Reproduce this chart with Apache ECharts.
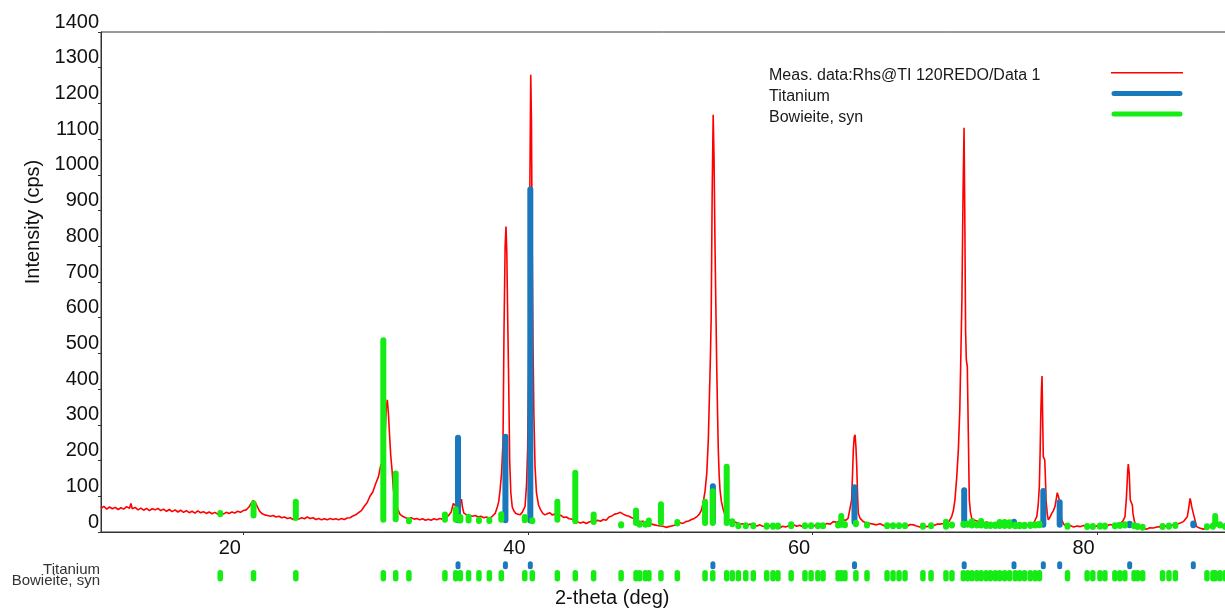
<!DOCTYPE html>
<html>
<head>
<meta charset="utf-8">
<title>XRD pattern</title>
<script src="https://cdn.jsdelivr.net/npm/echarts@6/dist/echarts.min.js"></script>
<style>
  html, body { margin: 0; padding: 0; background: #fff; }
  #chart { width: 1225px; height: 608px; }
</style>
</head>
<body>
<div id="chart"></div>
<script>
// measured pattern: [2-theta, intensity]
var measured = [
  [10.0,66],[10.2,72],[10.4,64],[10.6,70],[10.8,65],[11.0,69],[11.2,63],[11.4,68],[11.6,64],[11.8,71],
  [12.0,66],[12.1,80],[12.2,65],[12.4,69],[12.6,62],[12.8,67],[13.0,61],[13.2,66],[13.4,60],[13.6,65],
  [13.8,62],[14.0,66],[14.2,60],[14.4,64],[14.6,58],[14.8,63],[15.0,57],[15.2,62],[15.4,56],[15.6,61],
  [15.8,55],[16.0,60],[16.2,54],[16.4,58],[16.6,53],[16.8,59],[17.0,54],[17.2,57],[17.4,52],[17.6,56],
  [17.8,51],[18.0,55],[18.2,50],[18.4,54],[18.6,50],[18.8,55],[19.0,52],[19.2,56],[19.4,53],[19.6,58],
  [19.8,55],[20.0,60],[20.2,62],[20.4,70],[20.55,80],[20.7,88],[20.85,82],[21.0,70],[21.15,58],[21.3,52],
  [21.5,48],[21.7,46],[21.9,44],[22.1,46],[22.3,42],[22.5,44],[22.7,40],[22.9,42],[23.1,38],[23.3,40],
  [23.5,35],[23.7,38],[23.9,36],[24.1,40],[24.3,37],[24.5,42],[24.7,38],[24.9,40],[25.1,35],[25.3,38],
  [25.5,34],[25.7,37],[25.9,34],[26.1,38],[26.3,35],[26.5,37],[26.7,34],[26.9,38],[27.1,35],[27.3,39],
  [27.5,40],[27.7,45],[27.9,48],[28.1,54],[28.3,60],[28.5,72],[28.7,82],[28.9,100],[29.1,112],[29.3,135],
  [29.5,155],[29.65,185],[29.8,200],[29.95,260],[30.05,350],[30.12,370],[30.2,330],[30.28,270],[30.36,215],[30.45,175],
  [30.55,118],[30.65,90],[30.8,70],[31.0,50],[31.2,44],[31.4,40],[31.6,37],[31.8,40],[32.0,36],[32.2,38],
  [32.4,34],[32.6,37],[32.8,33],[33.0,36],[33.2,33],[33.4,37],[33.6,34],[33.8,38],[34.0,36],[34.2,40],
  [34.4,45],[34.6,55],[34.76,80],[34.9,76],[35.0,70],[35.12,62],[35.23,60],[35.33,92],[35.4,70],[35.5,53],
  [35.7,48],[35.9,46],[36.1,44],[36.3,46],[36.5,42],[36.7,44],[36.9,40],[37.1,42],[37.3,38],[37.5,44],
  [37.7,52],[37.85,70],[37.95,85],[38.05,120],[38.15,165],[38.25,250],[38.32,560],[38.4,800],[38.46,855],[38.52,780],
  [38.58,600],[38.65,420],[38.72,200],[38.8,110],[38.9,70],[39.0,60],[39.15,52],[39.3,50],[39.45,48],[39.6,55],
  [39.7,60],[39.8,72],[39.9,130],[39.98,230],[40.04,420],[40.09,700],[40.14,980],[40.2,1280],[40.25,1150],[40.3,800],
  [40.36,520],[40.42,330],[40.5,185],[40.6,110],[40.75,75],[40.9,62],[41.05,52],[41.2,48],[41.4,52],[41.55,54],
  [41.7,48],[41.9,50],[42.1,45],[42.3,47],[42.5,41],[42.7,42],[42.9,37],[43.1,36],[43.3,33],[43.5,28],
  [43.7,25],[43.9,28],[44.1,24],[44.3,28],[44.5,31],[44.7,28],[44.9,33],[45.1,30],[45.3,35],[45.5,33],
  [45.7,42],[45.9,45],[46.1,50],[46.3,52],[46.5,55],[46.7,50],[46.9,46],[47.1,44],[47.3,40],[47.5,37],
  [47.7,32],[47.9,29],[48.1,30],[48.3,26],[48.5,25],[48.7,22],[48.9,20],[49.1,18],[49.3,17],[49.5,16],
  [49.7,13],[49.9,15],[50.1,17],[50.3,19],[50.5,22],[50.7,26],[50.9,24],[51.1,29],[51.3,31],[51.5,35],
  [51.7,38],[51.9,44],[52.05,50],[52.2,62],[52.33,85],[52.45,115],[52.57,164],[52.68,260],[52.75,370],[52.82,480],
  [52.88,600],[52.95,950],[53.02,1168],[53.08,1050],[53.15,800],[53.22,600],[53.27,463],[53.33,330],[53.38,230],[53.44,160],
  [53.5,118],[53.6,85],[53.73,62],[53.85,48],[53.97,38],[54.2,32],[54.43,29],[54.7,26],[54.9,22],[55.14,23],
  [55.4,19],[55.6,22],[55.84,20],[56.1,17],[56.3,20],[56.5,16],[56.78,15],[57.0,18],[57.25,13],[57.5,15],
  [57.72,12],[57.9,16],[58.1,14],[58.4,18],[58.65,20],[58.9,16],[59.1,19],[59.35,14],[59.59,15],[59.8,19],
  [60.05,16],[60.3,21],[60.53,22],[60.8,19],[61.0,24],[61.25,22],[61.46,29],[61.7,27],[61.95,31],[62.16,34],
  [62.35,33],[62.5,38],[62.64,43],[62.75,90],[62.82,170],[62.87,230],[62.93,265],[62.99,272],[63.05,240],[63.11,183],
  [63.17,100],[63.22,52],[63.35,38],[63.57,29],[63.8,26],[64.05,24],[64.27,22],[64.5,20],[64.75,23],[65.0,18],
  [65.21,17],[65.45,21],[65.7,16],[65.95,19],[66.15,15],[66.4,19],[66.65,16],[66.85,21],[67.09,20],[67.3,17],
  [67.55,14],[67.8,18],[68.03,15],[68.3,19],[68.5,18],[68.75,22],[68.96,22],[69.2,24],[69.43,26],[69.6,30],
  [69.78,43],[69.9,60],[70.01,90],[70.13,150],[70.25,230],[70.35,340],[70.41,463],[70.5,650],[70.58,950],[70.65,1132],
  [70.7,900],[70.76,560],[70.81,482],[70.88,463],[70.95,277],[71.02,90],[71.1,55],[71.19,38],[71.4,33],[71.6,30],
  [71.77,29],[72.0,25],[72.25,28],[72.5,23],[72.71,22],[72.95,26],[73.2,22],[73.45,25],[73.65,24],[73.9,20],
  [74.15,23],[74.35,18],[74.58,17],[74.8,21],[75.05,19],[75.25,23],[75.4,22],[75.58,28],[75.76,43],[75.86,75],
  [75.94,127],[76.0,230],[76.04,323],[76.09,400],[76.13,437],[76.17,330],[76.22,211],[76.27,215],[76.32,202],[76.37,150],
  [76.41,90],[76.5,50],[76.57,34],[76.7,42],[76.81,52],[76.93,60],[77.04,71],[77.12,90],[77.2,110],[77.28,100],
  [77.34,90],[77.42,60],[77.51,34],[77.65,22],[77.86,15],[78.1,18],[78.35,14],[78.6,17],[78.8,15],[79.05,18],
  [79.3,14],[79.5,16],[79.73,13],[79.95,17],[80.2,15],[80.45,19],[80.67,17],[80.9,21],[81.15,19],[81.4,24],
  [81.61,24],[81.8,30],[81.96,43],[82.05,90],[82.1,127],[82.15,170],[82.19,190],[82.23,175],[82.26,164],[82.3,120],
  [82.33,90],[82.38,88],[82.43,92],[82.48,75],[82.52,52],[82.62,30],[82.78,15],[83.0,13],[83.25,10],[83.49,8],
  [83.7,12],[83.95,11],[84.2,14],[84.42,15],[84.65,13],[84.9,18],[85.1,16],[85.36,20],[85.6,22],[85.85,25],
  [86.06,29],[86.2,34],[86.34,43],[86.45,70],[86.53,94],[86.59,85],[86.65,71],[86.7,62],[86.76,57],[86.85,38],
  [86.99,15],[87.2,11],[87.46,8],[87.7,12],[87.93,15],[88.15,20],[88.4,24],[88.6,18],[88.8,15],[89.0,13],
  [89.2,16],[89.5,14],[89.8,15],[90.0,14]
];

// Titanium reference lines: position, stick foot, stick top
var tiPos  = [35.09, 38.42, 40.17, 53.00, 62.95, 70.66, 74.16, 76.22, 77.37, 82.29, 86.76];
var tiLow  = [33, 33, 32, 28, 28, 20, 20, 20, 20, 19, 19];
var tiHigh = [264, 267, 959, 128, 125, 117, 29, 115, 83, 23, 24];

// Bowieite, syn reference lines
var bowPos = [18.38, 20.72, 23.69, 29.84, 30.71, 31.64, 34.17, 34.93, 35.25, 35.83,
  36.56, 37.29, 38.13, 39.78, 40.31, 42.07, 43.33, 44.62, 46.55, 47.60,
  47.85, 48.25, 48.50, 49.35, 50.50, 52.45, 52.99, 53.97, 54.36, 54.79,
  55.31, 55.84, 56.78, 57.22, 57.57, 58.50, 59.47, 59.90, 60.38, 60.74,
  61.80, 62.02, 62.28, 63.05, 63.83, 65.24, 65.66, 66.08, 66.50, 67.76,
  68.33, 69.38, 69.80, 70.60, 70.90, 71.20, 71.55, 71.85, 72.20, 72.50,
  72.85, 73.15, 73.50, 73.85, 74.25, 74.55, 74.90, 75.30, 75.65, 75.95,
  77.92, 79.30, 79.70, 80.20, 80.55, 81.25, 81.60, 81.95, 82.60, 82.85,
  83.20, 84.60, 85.05, 85.50, 87.72, 88.14, 88.30, 88.63, 89.00];
var bowLow = [50, 46, 39, 34, 36, 30, 34, 34, 32, 32,
  31, 31, 34, 33, 30, 34, 30, 28, 18, 25,
  20, 20, 22, 26, 24, 25, 25, 25, 22, 16,
  16, 16, 15, 15, 15, 16, 16, 16, 16, 16,
  18, 20, 19, 22, 18, 16, 16, 16, 16, 15,
  16, 15, 18, 20, 20, 18, 18, 18, 17, 17,
  17, 17, 17, 17, 16, 16, 16, 17, 18, 19,
  15, 14, 14, 15, 15, 16, 17, 18, 16, 14,
  12, 14, 15, 17, 13, 15, 22, 18, 14];
var bowHigh = [53, 80, 85, 537, 164, 33, 49, 64, 42, 43,
  34, 34, 50, 42, 33, 85, 166, 49, 22, 60,
  23, 23, 32, 78, 28, 85, 114, 183, 30, 19,
  19, 19, 18, 18, 18, 22, 19, 19, 19, 19,
  21, 45, 22, 26, 21, 19, 19, 19, 19, 18,
  19, 29, 21, 23, 24, 30, 22, 31, 21, 21,
  21, 28, 28, 27, 20, 20, 20, 21, 22, 23,
  18, 17, 17, 18, 18, 19, 20, 22, 19, 17,
  15, 17, 18, 20, 16, 18, 45, 22, 17];

var MEAS = 'Meas. data:Rhs@TI 120REDO/Data 1';
var TI = 'Titanium';
var BOW = 'Bowieite, syn';
var FONT = '"Liberation Sans", Arial, sans-serif';
var RED = '#ff0000', BLUE = '#1a78bd', GREEN = '#14ec14';

var tiSticks = tiPos.map(function (p, i) { return [p, tiLow[i], tiHigh[i]]; });
var bowSticks = bowPos.map(function (p, i) { return [p, bowLow[i], bowHigh[i]]; });

// vertical stick from foot to top with round caps
function stickItem(params, api) {
  var lo = api.coord([api.value(0), api.value(1)]);
  var hi = api.coord([api.value(0), api.value(2)]);
  return {
    type: 'line',
    shape: { x1: lo[0], y1: lo[1], x2: hi[0], y2: hi[1] },
    style: { stroke: api.visual('color'), lineWidth: 6, lineCap: 'round' }
  };
}
// short marks in the position strip under the plot
function stripItem(len, w) {
  return function (params, api) {
    var p = api.coord([api.value(0), api.value(1)]);
    return {
      type: 'line',
      shape: { x1: p[0], y1: p[1] - len / 2, x2: p[0], y2: p[1] + len / 2 },
      style: { stroke: api.visual('color'), lineWidth: w, lineCap: 'round' }
    };
  };
}

// legend icons, box 72 x 14 (corner points fix the box)
var iconRed = 'path://M0,0 L0.01,0 M72,14 L71.99,14 M0,3.0 L72,3.0 L72,4.4 L0,4.4 Z';
var iconBar = 'path://M0,0 L0.01,0 M72,14 L71.99,14 M3,1.2 L69,1.2 A2.5,2.5 0 0 1 69,6.2 L3,6.2 A2.5,2.5 0 0 1 3,1.2 Z';

var chart = echarts.init(document.getElementById('chart'));
var option = {
  animation: false,
  backgroundColor: '#fff',
  textStyle: { fontFamily: FONT },
  grid: [
    { left: 101, top: 32, width: 1138.4, height: 500, show: true, borderColor: '#333', borderWidth: 1,
      containLabel: false, outerBoundsMode: 'none' },
    { left: 101, top: 560, width: 1138.4, height: 21, containLabel: false, outerBoundsMode: 'none' }
  ],
  legend: {
    orient: 'vertical',
    right: 42,
    top: 68,
    padding: 0,
    itemGap: 4.7,
    itemWidth: 72,
    itemHeight: 14,
    align: 'right',
    selectedMode: false,
    itemStyle: { borderWidth: 0 },
    data: [
      { name: MEAS, icon: iconRed },
      { name: TI, icon: iconBar },
      { name: BOW, icon: iconBar }
    ],
    formatter: function (name) { return '{a|' + name + '}'; },
    textStyle: {
      rich: {
        a: { width: 337, align: 'left', fontSize: 16, lineHeight: 16, color: '#1a1a1a', fontFamily: FONT }
      }
    }
  },
  xAxis: [
    {
      gridIndex: 0,
      type: 'value',
      min: 10,
      max: 90,
      splitNumber: 4,
      name: '2-theta (deg)',
      nameLocation: 'middle',
      nameGap: 56,
      nameTextStyle: { fontSize: 20, color: '#111', padding: [0, 116, 0, 0] },
      axisLine: { lineStyle: { color: '#333', width: 1 } },
      axisTick: { length: 3, lineStyle: { color: '#333' } },
      splitLine: { show: false },
      axisLabel: {
        fontSize: 20,
        color: '#111',
        margin: 6,
        padding: [0, 27, 0, 0],
        showMinLabel: false,
        showMaxLabel: false,
        formatter: function (v) { return v % 20 === 0 ? String(v) : ''; }
      }
    },
    { gridIndex: 1, type: 'value', min: 10, max: 90, show: false }
  ],
  yAxis: [
    {
      gridIndex: 0,
      type: 'value',
      min: 0,
      max: 1400,
      interval: 100,
      name: 'Intensity (cps)',
      nameLocation: 'middle',
      nameGap: 48,
      nameTextStyle: { fontSize: 20, color: '#111', padding: [0, 0, 0, 120] },
      axisLine: { show: true, lineStyle: { color: '#333', width: 1 } },
      axisTick: { show: true, length: 3, lineStyle: { color: '#333' } },
      splitLine: { show: false },
      axisLabel: {
        fontSize: 20,
        color: '#111',
        margin: 2,
        verticalAlign: 'bottom',
        lineHeight: 20,
        formatter: function (v) { return String(v); }
      }
    },
    {
      gridIndex: 1,
      type: 'category',
      data: [BOW, TI],
      axisLine: { show: false },
      axisTick: { show: false },
      splitLine: { show: false },
      axisLabel: { interval: 0, fontSize: 15, color: '#333', margin: 1, verticalAlign: 'top', lineHeight: 10 }
    }
  ],
  series: [
    {
      name: MEAS,
      type: 'line',
      xAxisIndex: 0,
      yAxisIndex: 0,
      data: measured,
      symbol: 'none',
      showSymbol: false,
      lineStyle: { color: RED, width: 1.6 },
      itemStyle: { color: RED },
      z: 2
    },
    {
      name: TI,
      type: 'custom',
      xAxisIndex: 0,
      yAxisIndex: 0,
      renderItem: stickItem,
      data: tiSticks,
      encode: { x: 0, y: [1, 2] },
      itemStyle: { color: BLUE },
      clip: true,
      z: 3
    },
    {
      name: BOW,
      type: 'custom',
      xAxisIndex: 0,
      yAxisIndex: 0,
      renderItem: stickItem,
      data: bowSticks,
      encode: { x: 0, y: [1, 2] },
      itemStyle: { color: GREEN },
      clip: true,
      z: 4
    },
    {
      name: BOW,
      type: 'custom',
      xAxisIndex: 1,
      yAxisIndex: 1,
      renderItem: stripItem(6, 5.5),
      data: bowPos.map(function (p) { return [p, 0]; }),
      encode: { x: 0, y: 1 },
      itemStyle: { color: GREEN },
      z: 4
    },
    {
      name: TI,
      type: 'custom',
      xAxisIndex: 1,
      yAxisIndex: 1,
      renderItem: stripItem(3, 5),
      data: tiPos.map(function (p) { return [p, 1]; }),
      encode: { x: 0, y: 1 },
      itemStyle: { color: BLUE },
      z: 5
    }
  ]
};
chart.setOption(option);
</script>
</body>
</html>
